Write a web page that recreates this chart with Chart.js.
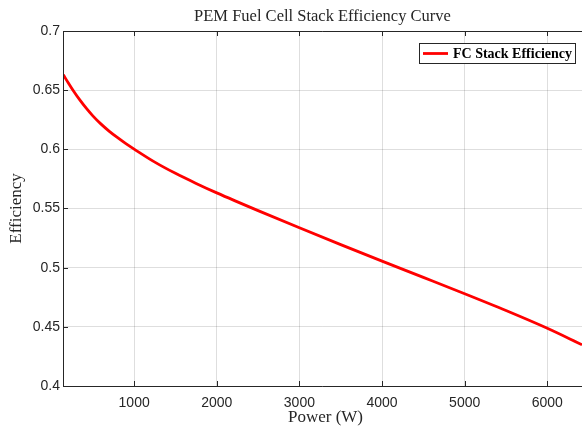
<!DOCTYPE html>
<html>
<head>
<meta charset="utf-8">
<script src="https://cdn.jsdelivr.net/npm/chart.js@4.4.1/dist/chart.umd.min.js"></script>
<style>
  html, body { margin: 0; padding: 0; background: #fff; }
  #wrap { width: 582px; height: 427px; }
</style>
</head>
<body>
<div id="wrap"><canvas id="effChart" width="582" height="427"></canvas></div>
<script>
// Stack power (W) and efficiency along the polarization curve
const powerW = [143, 200, 260, 340, 420, 500, 600, 700, 800, 900, 1000, 1250, 1500, 1750, 2000, 2500, 3000, 3500, 4000, 4500, 5000, 5500, 6000, 6420];
const efficiency = [0.6630, 0.6565, 0.6500, 0.6420, 0.6348, 0.6283, 0.6213, 0.6152, 0.6098, 0.6048, 0.6002, 0.5892, 0.5797, 0.5712, 0.5632, 0.5482, 0.5337, 0.5195, 0.5055, 0.4918, 0.4780, 0.4638, 0.4488, 0.4349];

const xTicks = [1000, 2000, 3000, 4000, 5000, 6000];
const yTicks = [0.4, 0.45, 0.5, 0.55, 0.6, 0.65, 0.7];

const seriesLabel = 'FC Stack Efficiency';
const titleText = 'PEM Fuel Cell Stack Efficiency Curve';
const xLabel = 'Power (W)';
const yLabel = 'Efficiency';

const axisColor = '#262626';

// Box, inward tick marks, title, axis labels and legend
const matlabAxes = {
    id: 'matlabAxes',
    afterDatasetsDraw(chart) {
        const ctx = chart.ctx;
        const area = chart.chartArea;
        const xs = chart.scales.x;
        const ys = chart.scales.y;
        ctx.save();
        ctx.strokeStyle = axisColor;
        ctx.lineWidth = 1;
        ctx.beginPath();
        // left, bottom, top edges
        ctx.moveTo(area.left + 0.5, area.top + 0.5);
        ctx.lineTo(area.left + 0.5, area.bottom + 0.5);
        ctx.lineTo(area.right, area.bottom + 0.5);
        ctx.moveTo(area.left + 0.5, area.top + 0.5);
        ctx.lineTo(area.right, area.top + 0.5);
        // tick marks pointing inward
        xTicks.forEach(v => {
            const px = Math.round(xs.getPixelForValue(v)) + 0.5;
            ctx.moveTo(px, area.bottom);
            ctx.lineTo(px, area.bottom - 5);
            ctx.moveTo(px, area.top);
            ctx.lineTo(px, area.top + 5);
        });
        yTicks.forEach(v => {
            const py = Math.round(ys.getPixelForValue(v)) + 0.5;
            ctx.moveTo(area.left, py);
            ctx.lineTo(area.left + 5, py);
        });
        ctx.stroke();
        ctx.restore();
    },
    afterDraw(chart) {
        const ctx = chart.ctx;
        const area = chart.chartArea;
        const cx = (area.left + area.right) / 2;
        ctx.save();
        ctx.fillStyle = axisColor;
        ctx.textAlign = 'center';
        ctx.textBaseline = 'middle';
        ctx.font = '16.5px "Liberation Serif", serif';
        ctx.fillText(titleText, cx, 17);
        ctx.font = '17px "Liberation Serif", serif';
        ctx.fillText(xLabel, cx + 3, 418);
        ctx.save();
        ctx.translate(17, (area.top + area.bottom) / 2);
        ctx.rotate(-Math.PI / 2);
        ctx.fillText(yLabel, 0, 0);
        ctx.restore();

        // legend
        const ds = chart.data.datasets[0];
        const bx = 419.5, by = 43.5, bw = 156, bh = 20;
        ctx.fillStyle = '#fff';
        ctx.fillRect(bx, by, bw, bh);
        ctx.strokeStyle = axisColor;
        ctx.lineWidth = 1;
        ctx.strokeRect(bx, by, bw, bh);
        ctx.strokeStyle = ds.borderColor;
        ctx.lineWidth = 2.8;
        ctx.beginPath();
        ctx.moveTo(423, by + bh / 2);
        ctx.lineTo(448, by + bh / 2);
        ctx.stroke();
        ctx.fillStyle = '#000';
        ctx.textAlign = 'left';
        ctx.font = 'bold 14px "Liberation Serif", serif';
        ctx.fillText(ds.label, 453, by + bh / 2 + 1);
        ctx.restore();
    }
};

const ctx = document.getElementById('effChart').getContext('2d');
new Chart(ctx, {
    type: 'line',
    data: {
        datasets: [{
            label: seriesLabel,
            data: powerW.map((p, i) => ({ x: p, y: efficiency[i] })),
            borderColor: '#ff0000',
            borderWidth: 2.8,
            pointRadius: 0,
            fill: false,
            cubicInterpolationMode: 'monotone'
        }]
    },
    options: {
        responsive: false,
        animation: false,
        layout: { padding: { top: 31, right: 0, left: 0, bottom: 0 } },
        plugins: {
            legend: { display: false },
            title: { display: false },
            tooltip: { enabled: false }
        },
        scales: {
            x: {
                type: 'linear',
                min: 139,
                max: 6420,
                afterBuildTicks: scale => { scale.ticks = xTicks.map(v => ({ value: v })); },
                afterFit: scale => { scale.height = 41; },
                grid: { color: 'rgba(0,0,0,0.13)', drawTicks: false },
                border: { display: false },
                ticks: {
                    padding: 9,
                    color: axisColor,
                    font: { family: '"Liberation Sans", Arial, sans-serif', size: 14 },
                    maxRotation: 0,
                    callback: v => String(v)
                }
            },
            y: {
                type: 'linear',
                min: 0.4,
                max: 0.7,
                afterBuildTicks: scale => { scale.ticks = yTicks.map(v => ({ value: v })); },
                afterFit: scale => { scale.width = 63; },
                grid: { color: 'rgba(0,0,0,0.13)', drawTicks: false },
                border: { display: false },
                ticks: {
                    padding: 3,
                    color: axisColor,
                    font: { family: '"Liberation Sans", Arial, sans-serif', size: 14 },
                    callback: v => String(+v.toFixed(2))
                }
            }
        }
    },
    plugins: [matlabAxes]
});
</script>
</body>
</html>
